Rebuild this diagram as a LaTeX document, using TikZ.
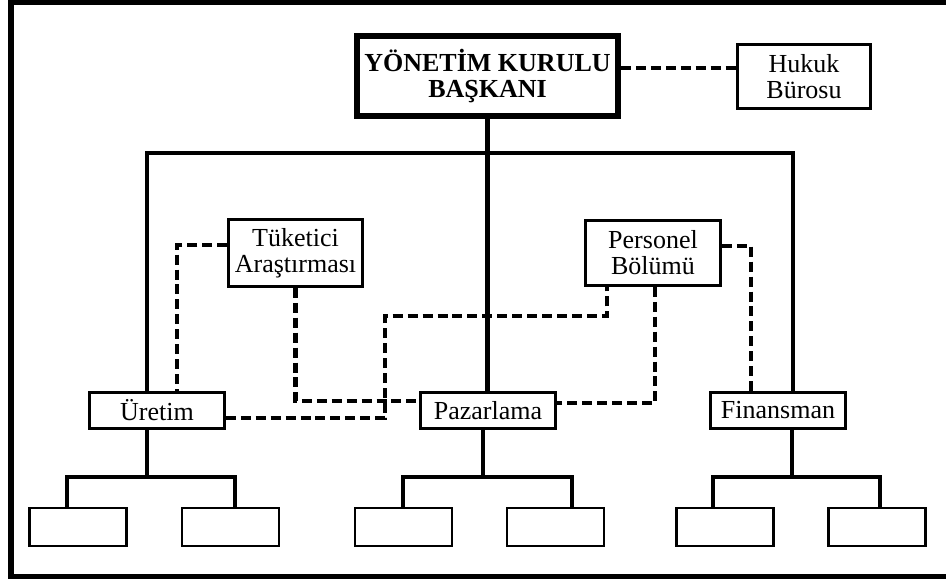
\documentclass[tikz,border=0pt]{standalone}
\usepackage{fontspec}
\setmainfont{Liberation Serif}
\usetikzlibrary{positioning, calc}
\newcommand{\deptfont}{\fontsize{14.8pt}{14.8pt}\selectfont}

\begin{document}
\begin{tikzpicture}[
  box/.style={draw, line width=1.5pt, inner sep=0pt, align=center, font=\deptfont},
  leaf/.style={draw, line width=1.4pt, minimum width=1.94cm, minimum height=0.76cm},
  link/.style={line width=2.3pt},
  staff/.style={line width=2.3pt, dash pattern=on 5.7pt off 2.8pt},
]
\useasboundingbox (0,0) rectangle (18.92,11.66);
% Frame
\draw[line width=3.2pt] (0.22,0.13) rectangle (19.3,11.62);

% Top level
\node[box, line width=3.4pt, font=\deptfont\bfseries, minimum width=5.22cm,
      minimum height=1.6cm] (ykb) at (9.75,10.14) {YÖNETİM KURULU\\BAŞKANI};
\node[box, minimum width=2.66cm, minimum height=1.28cm] (hukuk) at (16.08,10.13) {Hukuk\\Bürosu};
\draw[staff] ([yshift=0.16cm]ykb.east) -- ([yshift=0.16cm]ykb.east -| hukuk.west);

% Staff units
\node[box, minimum width=2.68cm, minimum height=1.34cm] (tuketici) at (5.91,6.6) {Tüketici\\Araştırması};
\node[box, minimum width=2.7cm, minimum height=1.3cm] (personel) at (13.06,6.6) {Personel\\Bölümü};

% Departments
\node[box, minimum width=2.7cm, minimum height=0.72cm] (uretim) at (3.14,3.45) {Üretim};
\node[box, minimum width=2.7cm, minimum height=0.72cm] (pazarlama) at (9.76,3.45) {Pazarlama};
\node[box, minimum width=2.7cm, minimum height=0.72cm] (finansman) at (15.56,3.45) {Finansman};

\coordinate (barL) at (2.94,8.6);
\coordinate (barR) at (15.86,8.6);
\draw[link] (barL |- uretim.north) -- (barL) -- (barR) -- (barR |- finansman.north);
\draw[link] (ykb.south) -- (ykb.south |- pazarlama.north);

% Dashed staff links
\coordinate (ut) at (3.54,6.76);
\draw[staff] (tuketici.west |- ut) -- (ut) -- (ut |- uretim.north);
\draw[staff] (tuketici.south) |- ([yshift=0.19cm]pazarlama.west);
\coordinate (up1) at (7.7,3.3);
\coordinate (up2) at (7.7,5.34);
\coordinate (up3) at (12.14,5.34);
\draw[staff] (uretim.east |- up1) -- (up1) -- (up2) -- (up3) -- (up3 |- personel.south);
\draw[staff] ([xshift=0.04cm]personel.south) |- ([yshift=0.15cm]pazarlama.east);
\coordinate (pf) at (15.02,6.74);
\draw[staff] (personel.east |- pf) -- (pf) -- (pf |- finansman.north);

% Lower units
\node[leaf] (uretim-1) at (1.56,1.12) {};
\node[leaf] (uretim-2) at (4.61,1.12) {};
\node[leaf] (pazarlama-1) at (8.07,1.12) {};
\node[leaf] (pazarlama-2) at (11.11,1.12) {};
\node[leaf] (finansman-1) at (14.5,1.12) {};
\node[leaf] (finansman-2) at (17.54,1.12) {};

\coordinate (u-m) at (2.94,2.12);
\coordinate (u-a) at (1.34,2.12);
\coordinate (u-b) at (4.7,2.12);
\draw[link] (uretim.south -| u-m) -- (u-m);
\draw[link] (uretim-1.north -| u-a) -- (u-a) -- (u-b) -- (uretim-2.north -| u-b);

\coordinate (p-m) at (9.66,2.12);
\coordinate (p-a) at (8.06,2.12);
\coordinate (p-b) at (11.44,2.12);
\draw[link] (pazarlama.south -| p-m) -- (p-m);
\draw[link] (pazarlama-1.north -| p-a) -- (p-a) -- (p-b) -- (pazarlama-2.north -| p-b);

\coordinate (f-m) at (15.84,2.12);
\coordinate (f-a) at (14.26,2.12);
\coordinate (f-b) at (17.6,2.12);
\draw[link] (finansman.south -| f-m) -- (f-m);
\draw[link] (finansman-1.north -| f-a) -- (f-a) -- (f-b) -- (finansman-2.north -| f-b);
\end{tikzpicture}
\end{document}
